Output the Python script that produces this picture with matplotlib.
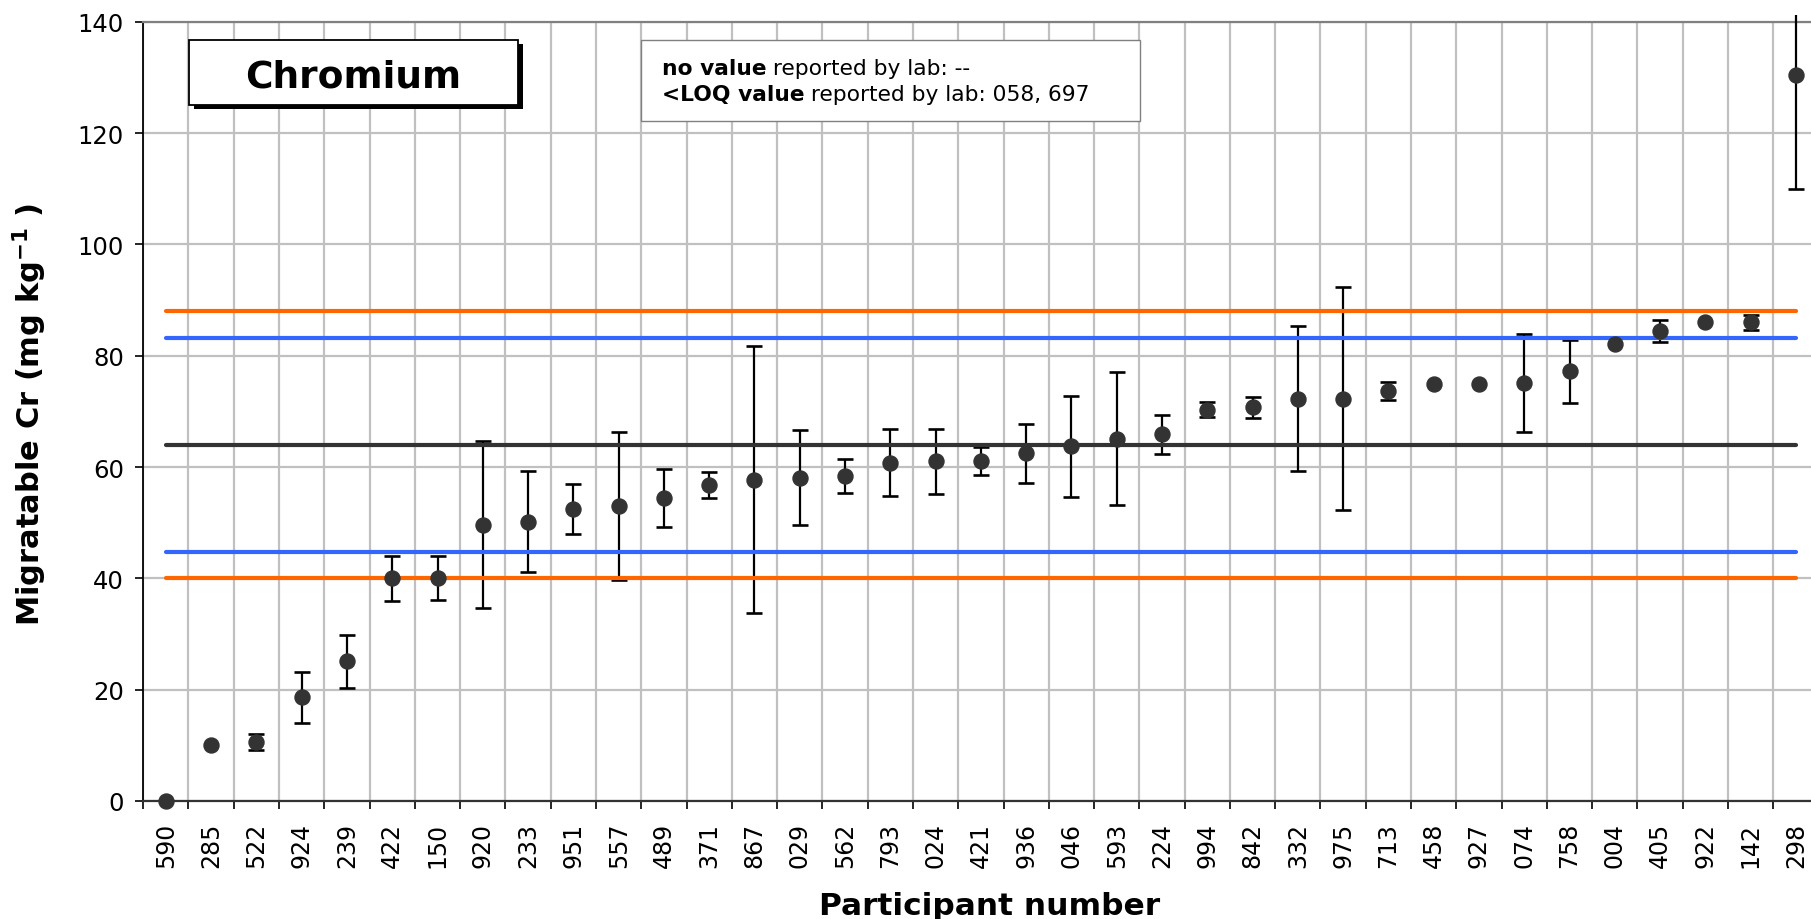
import matplotlib
matplotlib.use('Agg')

import numpy as np
import matplotlib.pyplot as plt
from matplotlib.patches import Rectangle
from matplotlib.transforms import Bbox, TransformedBbox

# participant codes, sorted by reported value
participants = ['590', '285', '522', '924', '239', '422', '150', '920', '233', '951',
                '557', '489', '371', '867', '029', '562', '793', '024', '421', '936',
                '046', '593', '224', '994', '842', '332', '975', '713', '458', '927',
                '074', '758', '004', '405', '922', '142', '298']

# migratable Cr (mg/kg) and expanded uncertainty reported by each lab
cr_values = [0.0, 10.1, 10.6, 18.6, 25.1, 40.0, 40.1, 49.6, 50.2, 52.5,
             53.0, 54.4, 56.8, 57.7, 58.1, 58.4, 60.8, 61.0, 61.1, 62.5,
             63.7, 65.1, 65.9, 70.3, 70.7, 72.3, 72.3, 73.7, 75.0, 75.0,
             75.1, 77.2, 82.1, 84.5, 86.0, 86.0, 130.4]
cr_uncert = [0.0, 0.0, 1.4, 4.6, 4.8, 4.0, 4.0, 15.0, 9.0, 4.5,
             13.3, 5.2, 2.3, 24.0, 8.5, 3.0, 6.0, 5.8, 2.5, 5.3,
             9.1, 12.0, 3.5, 1.3, 1.9, 13.1, 20.0, 1.6, 0.0, 0.0,
             8.8, 5.7, 0.0, 2.0, 0.0, 1.3, 20.4]

assigned_value = 64.0
inner_limits = [44.8, 83.2]
outer_limits = [40.0, 88.0]

yticks = [0, 20, 40, 60, 80, 100, 120, 140]

W, H = 1811, 920

plt.rcParams[ 'mathtext.default' ] = 'bf'

def fx( px ):
	return px / W

def fy( py ):
	return 1 - py / H

fig = plt.figure( figsize=( W / 100, H / 100 ), dpi=100 )
ax = fig.add_axes( [ fx( 143.2 ), fy( 802 ), 37 * 45.28 / W, ( 802 - 22.7 ) / H ] )

x = np.arange( len( participants ) )
vals = np.array( cr_values )
unc = np.array( cr_uncert )
has = unc > 0

eb = ax.errorbar( x[ has ], vals[ has ], yerr=unc[ has ], fmt='none', ecolor='black',
	elinewidth=1.6, capsize=5.6, capthick=1.9, zorder=3 )
# the 298 bar runs a bit above the plot frame, as in the original
clip = TransformedBbox( Bbox( [ [ 0, 0 ], [ 1, fy( 16 ) ] ] ), fig.transFigure )
for art in list( eb.lines[ 1 ] ) + list( eb.lines[ 2 ] ):
	art.set_clip_path( None )
	art.set_clip_box( clip )

ax.plot( x, [ outer_limits[ 0 ] ] * len( x ), color='#FF6600', lw=3, zorder=4, solid_capstyle='round' )
ax.plot( x, [ outer_limits[ 1 ] ] * len( x ), color='#FF6600', lw=3, zorder=4, solid_capstyle='round' )
ax.plot( x, [ inner_limits[ 0 ] ] * len( x ), color='#3366FF', lw=3, zorder=4, solid_capstyle='round' )
ax.plot( x, [ inner_limits[ 1 ] ] * len( x ), color='#3366FF', lw=3, zorder=4, solid_capstyle='round' )
ax.plot( x, [ assigned_value ] * len( x ), color='#333333', lw=3, zorder=4, solid_capstyle='round' )

ax.plot( x, vals, 'o', color='#333333', ms=10.8, mec='#333333', zorder=5, clip_on=False )

ax.set_xlim( -0.5, len( x ) - 0.5 )
ax.set_ylim( 0, 140 )
ax.set_yticks( yticks )
ax.set_xticks( x )
ax.set_xticklabels( participants, rotation=90, fontsize=17 )
ax.set_xticks( np.arange( -0.5, len( x ), 1 ), minor=True )
ax.tick_params( axis='x', which='major', length=0, pad=15 )
ax.tick_params( axis='x', which='minor', length=5.8, width=1.2, direction='out' )
ax.tick_params( axis='y', which='major', length=5.8, width=1.2, direction='out', labelsize=17.5, pad=8 )

ax.set_axisbelow( True )
ax.grid( which='minor', axis='x', color='#c0c0c0', lw=1.6 )
ax.grid( which='major', axis='y', color='#c0c0c0', lw=1.6 )

ax.spines[ 'left' ].set_color( 'black' )
ax.spines[ 'left' ].set_linewidth( 1.3 )
ax.spines[ 'bottom' ].set_color( '#333333' )
ax.spines[ 'bottom' ].set_linewidth( 1.6 )
ax.spines[ 'top' ].set_color( '#808080' )
ax.spines[ 'top' ].set_linewidth( 1.6 )
ax.spines[ 'right' ].set_visible( False )

fig.text( fx( 30 ), fy( 414 ), r'Migratable Cr (mg kg$^{-1}$ )', rotation=90,
	fontsize=22, fontweight='bold', ha='center', va='center' )
fig.text( fx( 990 ), fy( 915 ), 'Participant number', fontsize=22.5, fontweight='bold',
	ha='center', va='baseline' )

# title box with drop shadow
bx0, by0, bx1, by1 = 189.3, 40.7, 517.9, 106.0
fig.add_artist( Rectangle( ( fx( bx0 + 5 ), fy( by1 + 4 ) ), ( bx1 - bx0 ) / W, ( by1 - by0 ) / H,
	transform=fig.transFigure, facecolor='black', edgecolor='none', zorder=2 ) )
fig.add_artist( Rectangle( ( fx( bx0 ), fy( by1 ) ), ( bx1 - bx0 ) / W, ( by1 - by0 ) / H,
	transform=fig.transFigure, facecolor='white', edgecolor='black', lw=1.3, zorder=2 ) )
fig.text( fx( ( bx0 + bx1 ) / 2 ), fy( 87.3 ), 'Chromium', fontsize=27, fontweight='bold',
	ha='center', va='baseline', zorder=3 )

# note box
nx0, ny0, nx1, ny1 = 640.5, 40.7, 1140.4, 121.8
fig.add_artist( Rectangle( ( fx( nx0 ), fy( ny1 ) ), ( nx1 - nx0 ) / W, ( ny1 - ny0 ) / H,
	transform=fig.transFigure, facecolor='white', edgecolor='#808080', lw=1.0, zorder=2 ) )
notes = [ ( 'no value', ' reported by lab: --', 75 ), ( '<LOQ value', ' reported by lab: 058, 697', 101.5 ) ]
renderer = fig.canvas.get_renderer( )
for boldPart, plainPart, base in notes:
	t1 = fig.text( fx( 661.5 ), fy( base ), boldPart, fontsize=15.7, fontweight='bold',
		ha='left', va='baseline', zorder=3 )
	bb = t1.get_window_extent( renderer )
	fig.text( bb.x1 / W, fy( base ), plainPart, fontsize=15.7, ha='left', va='baseline', zorder=3 )

fig.savefig( 'out.png', dpi=100 )
